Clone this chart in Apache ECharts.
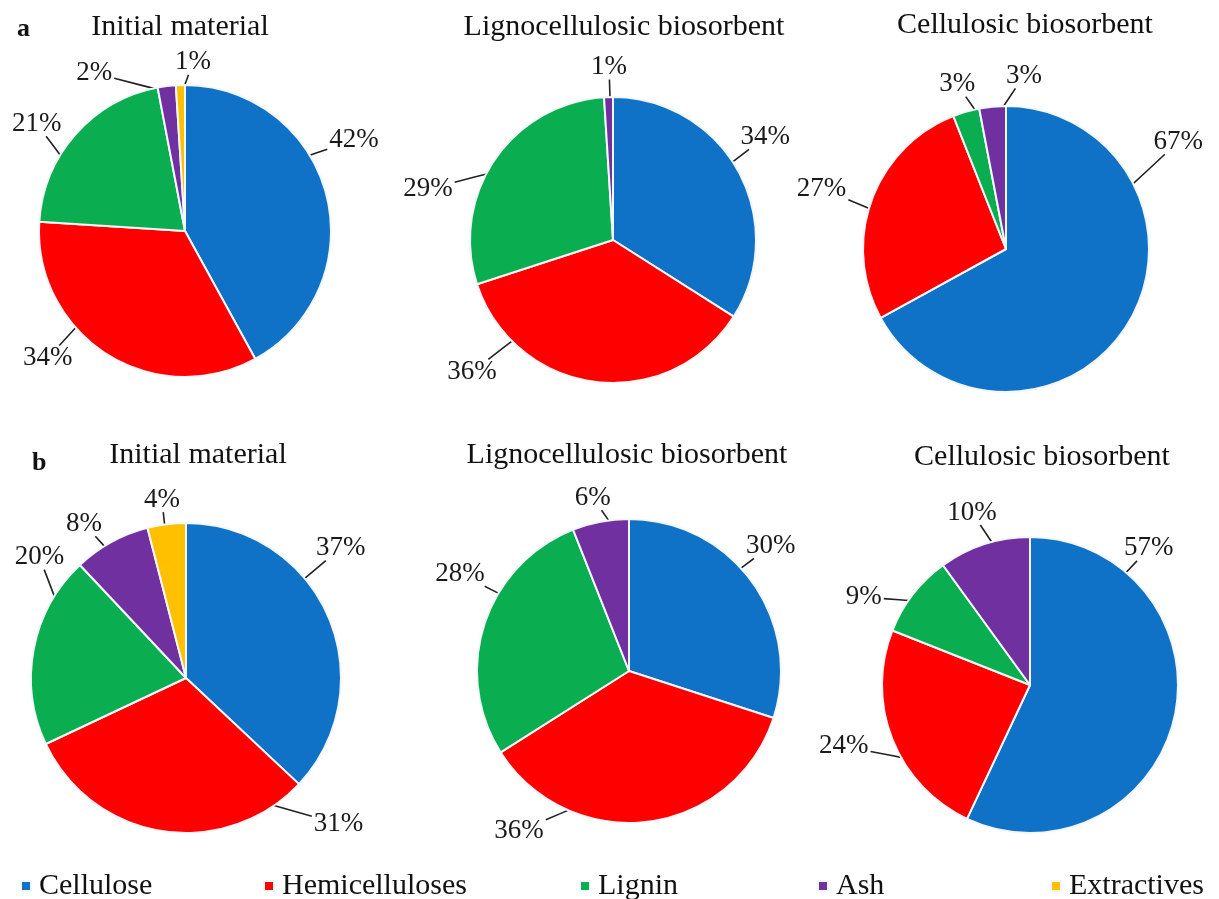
<!DOCTYPE html>
<html>
<head>
<meta charset="utf-8">
<script src="https://cdn.jsdelivr.net/npm/echarts@6/dist/echarts.min.js"></script>
<style>
  html, body { margin: 0; padding: 0; background: #ffffff; }
  #chart { width: 1219px; height: 899px; }
</style>
</head>
<body>
<div id="chart"></div>
<script>
// Composition categories and their colours
const components = ['Cellulose', 'Hemicelluloses', 'Lignin', 'Ash', 'Extractives'];
const componentColors = ['#1072c6', '#ff0000', '#0aad50', '#7030a0', '#ffc000'];

// Panel titles
const panelTitles = ['Initial material', 'Lignocellulosic biosorbent', 'Cellulosic biosorbent'];
const panelLetters = ['a', 'b'];

// Percentages (Cellulose, Hemicelluloses, Lignin, Ash, Extractives)
const initialA = [42, 34, 21, 2, 1];
const lignoA = [34, 36, 29, 1];
const celluA = [67, 27, 3, 3];
const initialB = [37, 31, 20, 8, 4];
const lignoB = [30, 36, 28, 6];
const celluB = [57, 24, 9, 10];

// Pie placement: centre and radius in px
const pieLayout = [
  { c: [185, 231], r: 146 },
  { c: [613, 240], r: 143 },
  { c: [1006, 249], r: 143 },
  { c: [186, 678], r: 155 },
  { c: [629, 671], r: 152 },
  { c: [1030, 685], r: 148 }
];

// Label placement per slice: [label angle (deg, clockwise from 12 o'clock), label distance, leader-line anchor angle]
const labelPlacement = [
  [[61.7, 192, 58.3], [227.2, 187, 228.7], [305.9, 183, 300.5], [330.1, 182, 352.0], [2.7, 169, 359.2]],
  [[55.9, 184, 57.0], [226.9, 193, 224.7], [285.4, 192, 299.3], [358.7, 173, 358.8]],
  [[58.1, 203, 63.4], [288.1, 194, 286.3], [343.5, 172, 348.2], [5.9, 174, 357.6]],
  [[50.0, 202, 50.0], [133.7, 211, 146.9], [309.5, 190, 300.4], [326.5, 185, 328.6], [352.3, 180, 352.0]],
  [[48.6, 189, 47.2], [214.5, 194, 201.7], [299.9, 195, 300.9], [348.2, 177, 353.3]],
  [[41.0, 181, 40.4], [251.8, 196, 239.0], [297.9, 188, 306.0], [341.4, 182, 345.7]]
];

const seriesValues = [initialA, lignoA, celluA, initialB, lignoB, celluB];

function polar(c, ang, dist) {
  const a = ang * Math.PI / 180;
  return [c[0] + Math.sin(a) * dist, c[1] - Math.cos(a) * dist];
}

// Places each percentage label and draws a straight leader from inside the slice edge
function makeLabelLayout(pieIdx) {
  const lay = pieLayout[pieIdx];
  return function (p) {
    const place = labelPlacement[pieIdx][p.dataIndex];
    if (!place) return {};
    const lc = polar(lay.c, place[0], place[1]);
    const inner = polar(lay.c, place[2], lay.r - 5);
    const w = p.labelRect.width / 2 + 2;
    const h = p.labelRect.height / 2 - 1;
    const dx = inner[0] - lc[0], dy = inner[1] - lc[1];
    const t = Math.min(dx !== 0 ? w / Math.abs(dx) : Infinity, dy !== 0 ? h / Math.abs(dy) : Infinity);
    const outer = [lc[0] + dx * t, lc[1] + dy * t];
    const mid = [(outer[0] + inner[0]) / 2, (outer[1] + inner[1]) / 2];
    return {
      x: lc[0],
      y: lc[1],
      align: 'center',
      verticalAlign: 'middle',
      labelLinePoints: [inner, mid, outer]
    };
  };
}

const series = seriesValues.map(function (vals, i) {
  return {
    type: 'pie',
    center: pieLayout[i].c,
    radius: pieLayout[i].r,
    startAngle: 90,
    clockwise: true,
    avoidLabelOverlap: false,
    silent: true,
    animation: false,
    data: vals.map(function (v, k) {
      return { name: components[k], value: v, itemStyle: { color: componentColors[k] } };
    }),
    itemStyle: { borderColor: '#f4f7fa', borderWidth: 2 },
    label: {
      show: true,
      position: 'outside',
      formatter: '{c}%',
      fontFamily: 'Liberation Serif',
      fontSize: 27,
      color: '#1a1a1a'
    },
    labelLine: {
      show: true,
      showAbove: true,
      length: 10,
      length2: 0,
      lineStyle: { color: '#222222', width: 1.6 }
    },
    labelLayout: makeLabelLayout(i),
    emphasis: { disabled: true }
  };
});

// Panel titles
const titleCenters = [[180, 12], [624, 12], [1025, 10], [198, 440], [627, 440], [1042, 442]];
const titles = titleCenters.map(function (tc, i) {
  return {
    text: panelTitles[i % 3],
    left: tc[0],
    top: tc[1],
    textAlign: 'center',
    padding: 0,
    textStyle: { fontFamily: 'Liberation Serif', fontSize: 30, fontWeight: 'normal', color: '#111111' }
  };
});
titles.push({ text: panelLetters[0], left: 17, top: 16, padding: 0,
  textStyle: { fontFamily: 'Liberation Serif', fontSize: 26, fontWeight: 'bold', color: '#111111' } });
titles.push({ text: panelLetters[1], left: 32, top: 450, padding: 0,
  textStyle: { fontFamily: 'Liberation Serif', fontSize: 26, fontWeight: 'bold', color: '#111111' } });

// One legend entry per component, spread along the bottom
const legendLeft = [20, 263, 579, 817, 1050];
const legends = components.map(function (name, i) {
  return {
    data: [name],
    left: legendLeft[i],
    top: 871,
    padding: 0,
    icon: 'rect',
    itemWidth: 10,
    itemHeight: 10,
    selectedMode: false,
    textStyle: { fontFamily: 'Liberation Serif', fontSize: 30, color: '#111111', padding: [0, 0, 0, 3] }
  };
});

const chart = echarts.init(document.getElementById('chart'), null, { renderer: 'canvas' });
chart.setOption({
  backgroundColor: '#ffffff',
  animation: false,
  title: titles,
  legend: legends,
  series: series
});
</script>
</body>
</html>
